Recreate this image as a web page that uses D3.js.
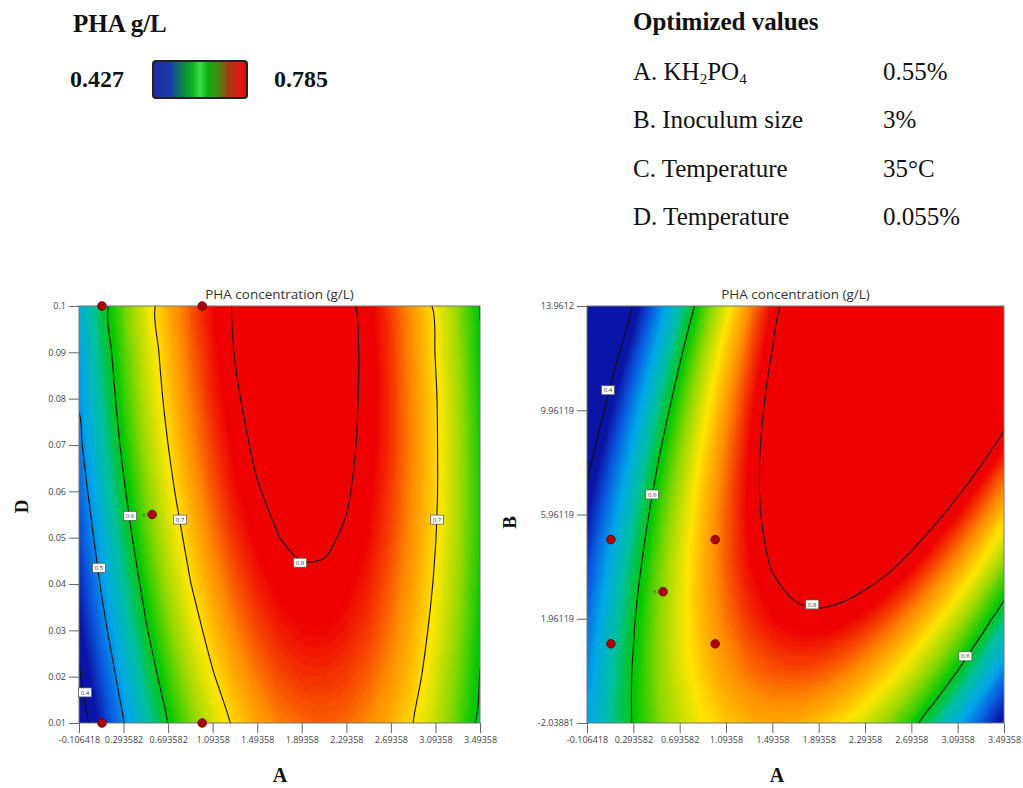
<!DOCTYPE html>
<html>
<head>
<meta charset="utf-8">
<script src="https://cdn.jsdelivr.net/npm/d3@7"></script>
<style>
  body { margin: 0; background: #fff; }
  .serif { font-family: 'Liberation Serif', 'Times New Roman', serif; fill: #111; }
  .tick text { font-family: 'Open Sans', 'Noto Sans', sans-serif; font-size: 9px; fill: #444; }
  .tick line { stroke: #666; }
</style>
</head>
<body>
<svg id="chart" width="1023" height="788"></svg>
<script>
// factor levels on the axes
const aTicks = [-0.106418, 0.293582, 0.693582, 1.09358, 1.49358, 1.89358, 2.29358, 2.69358, 3.09358, 3.49358];
const aTickLabels = ['-0.106418', '0.293582', '0.693582', '1.09358', '1.49358', '1.89358', '2.29358', '2.69358', '3.09358', '3.49358'];
const aGridFine = [-0.106418, 0.093582, 0.293582, 0.493582, 0.693582, 0.893582, 1.09358, 1.29358, 1.49358, 1.69358,
  1.89358, 2.09358, 2.29358, 2.49358, 2.69358, 2.89358, 3.09358, 3.29358, 3.49358];
const dTicks = [0.01, 0.02, 0.03, 0.04, 0.05, 0.06, 0.07, 0.08, 0.09, 0.1];
const dTickLabels = ['0.01', '0.02', '0.03', '0.04', '0.05', '0.06', '0.07', '0.08', '0.09', '0.1'];
const bTicks = [-2.03881, 1.96119, 5.96119, 9.96119, 13.9612];
const bTickLabels = ['-2.03881', '1.96119', '5.96119', '9.96119', '13.9612'];
const bGrid = [-2.03881, -0.03881, 1.96119, 3.96119, 5.96119, 7.96119, 9.96119, 11.9612, 13.9612];

// PHA concentration (g/L), rows = D (0.01 -> 0.1), columns = aGridFine
const phaAD = [
  [0.369, 0.437, 0.498, 0.553, 0.601, 0.642, 0.677, 0.706, 0.728, 0.744, 0.752, 0.755, 0.751, 0.740, 0.723, 0.700, 0.670, 0.633, 0.590],
  [0.394, 0.461, 0.521, 0.575, 0.622, 0.663, 0.697, 0.725, 0.746, 0.761, 0.769, 0.770, 0.765, 0.754, 0.736, 0.712, 0.680, 0.643, 0.599],
  [0.418, 0.484, 0.543, 0.596, 0.642, 0.682, 0.715, 0.742, 0.762, 0.776, 0.783, 0.784, 0.778, 0.766, 0.747, 0.721, 0.689, 0.651, 0.606],
  [0.439, 0.504, 0.562, 0.614, 0.660, 0.699, 0.731, 0.757, 0.776, 0.789, 0.795, 0.795, 0.788, 0.775, 0.755, 0.729, 0.696, 0.657, 0.611],
  [0.458, 0.522, 0.580, 0.631, 0.675, 0.713, 0.745, 0.770, 0.788, 0.800, 0.805, 0.804, 0.797, 0.783, 0.762, 0.735, 0.701, 0.661, 0.614],
  [0.475, 0.539, 0.595, 0.645, 0.689, 0.726, 0.757, 0.781, 0.798, 0.809, 0.814, 0.812, 0.803, 0.788, 0.766, 0.738, 0.704, 0.662, 0.615],
  [0.491, 0.553, 0.609, 0.658, 0.700, 0.737, 0.766, 0.789, 0.806, 0.816, 0.820, 0.817, 0.807, 0.791, 0.769, 0.740, 0.704, 0.662, 0.613],
  [0.504, 0.565, 0.620, 0.668, 0.710, 0.745, 0.774, 0.796, 0.812, 0.821, 0.824, 0.820, 0.809, 0.792, 0.769, 0.739, 0.703, 0.660, 0.610],
  [0.515, 0.575, 0.629, 0.676, 0.717, 0.752, 0.779, 0.801, 0.816, 0.824, 0.826, 0.821, 0.810, 0.792, 0.768, 0.737, 0.699, 0.656, 0.605],
  [0.524, 0.583, 0.636, 0.683, 0.723, 0.756, 0.783, 0.803, 0.817, 0.825, 0.826, 0.820, 0.808, 0.789, 0.764, 0.732, 0.694, 0.649, 0.598]
];

// PHA concentration (g/L), rows = bGrid, columns = aGridFine
const phaAB = [
  [0.510, 0.560, 0.603, 0.640, 0.670, 0.694, 0.711, 0.722, 0.726, 0.724, 0.715, 0.699, 0.677, 0.649, 0.614, 0.572, 0.524, 0.470, 0.409],
  [0.500, 0.555, 0.603, 0.646, 0.681, 0.710, 0.733, 0.749, 0.758, 0.761, 0.758, 0.748, 0.731, 0.708, 0.678, 0.642, 0.600, 0.551, 0.495],
  [0.482, 0.542, 0.596, 0.644, 0.685, 0.719, 0.747, 0.769, 0.784, 0.792, 0.794, 0.789, 0.778, 0.760, 0.736, 0.705, 0.668, 0.624, 0.574],
  [0.457, 0.523, 0.582, 0.635, 0.681, 0.721, 0.755, 0.782, 0.802, 0.816, 0.823, 0.824, 0.818, 0.806, 0.787, 0.761, 0.730, 0.691, 0.646],
  [0.425, 0.496, 0.561, 0.619, 0.671, 0.716, 0.755, 0.787, 0.813, 0.832, 0.845, 0.851, 0.851, 0.844, 0.830, 0.810, 0.784, 0.751, 0.711],
  [0.385, 0.462, 0.532, 0.596, 0.653, 0.704, 0.748, 0.786, 0.817, 0.841, 0.859, 0.871, 0.876, 0.875, 0.866, 0.852, 0.831, 0.803, 0.769],
  [0.339, 0.421, 0.497, 0.566, 0.628, 0.685, 0.734, 0.777, 0.814, 0.844, 0.867, 0.884, 0.894, 0.898, 0.896, 0.887, 0.871, 0.849, 0.820],
  [0.285, 0.373, 0.454, 0.528, 0.596, 0.658, 0.713, 0.761, 0.803, 0.839, 0.867, 0.890, 0.906, 0.915, 0.918, 0.914, 0.904, 0.887, 0.864],
  [0.225, 0.318, 0.404, 0.484, 0.557, 0.624, 0.685, 0.738, 0.786, 0.827, 0.861, 0.889, 0.910, 0.924, 0.933, 0.934, 0.929, 0.918, 0.900]
];

const levelsAD = [0.4, 0.5, 0.6, 0.7, 0.8];
const levelsAB = [0.4, 0.6, 0.8];

// design points
const pointsAD = [[0.1, 0.1], [1.0, 0.1], [0.55, 0.055], [0.1, 0.01], [1.0, 0.01]];
const pointsAB = [[0.1, 5], [1.0, 5], [0.55, 3], [0.1, 1], [1.0, 1]];
const centerRuns = 6;

// contour label anchors
const labelsAD = [['0.4', -0.052, 0.0166], ['0.5', 0.073, 0.0435], ['0.6', 0.352, 0.0547], ['0.7', 0.80, 0.0539], ['0.8', 1.878, 0.0446], ['0.7', 3.107, 0.0539]];
const labelsAB = [['0.4', 0.075, 10.73], ['0.6', 0.456, 6.73], ['0.8', 1.838, 2.51], ['0.6', 3.16, 0.52]];

const phaMin = 0.427, phaMax = 0.785;
const optimized = [
  ['A. KH', '0.55%'],
  ['B. Inoculum size', '3%'],
  ['C. Temperature', '35°C'],
  ['D. Temperature', '0.055%']
];

const svg = d3.select('#chart');

const colorStops = ['#0b16a8', '#0a5ee0', '#00a8e8', '#00c0a0', '#00c800', '#90d800', '#ffe600', '#ff8a00', '#ee0000'];
const color = d3.scaleLinear()
  .domain(colorStops.map((c, i) => phaMin + (phaMax - phaMin) * i / (colorStops.length - 1)))
  .range(colorStops)
  .clamp(true);

const smooth = d3.line().curve(d3.curveCatmullRomClosed.alpha(0.5));

function drawPanel(p) {
  const x = d3.scaleLinear().domain([aTicks[0], aTicks[aTicks.length - 1]]).range([p.left, p.right]);
  const y = d3.scaleLinear().domain([p.yTicks[0], p.yTicks[p.yTicks.length - 1]]).range([p.bottom, p.top]);
  const nx = p.xGrid.length, ny = p.yGrid.length;

  // grid values of d3.contours sit at cell centres
  const gx = d3.scaleLinear().domain([0.5, nx - 0.5]).range([x(p.xGrid[0]), x(p.xGrid[nx - 1])]);
  const gy = d3.scaleLinear().domain([0.5, ny - 0.5]).range([y(p.yGrid[0]), y(p.yGrid[ny - 1])]);
  const contourPath = geom => geom.coordinates
    .map(poly => poly.map(ring => smooth(ring.slice(0, -1).map(q => [gx(q[0]), gy(q[1])]))).join(''))
    .join('');
  const values = p.grid.flat();

  svg.append('clipPath').attr('id', p.id + '-clip')
    .append('rect')
    .attr('x', p.left).attr('y', p.top)
    .attr('width', p.right - p.left).attr('height', p.bottom - p.top);

  const g = svg.append('g').attr('clip-path', `url(#${p.id}-clip)`);

  const step = 0.003;
  const bands = d3.range(0.2, 0.95, step);
  g.selectAll('path.band')
    .data(d3.contours().size([nx, ny]).thresholds(bands)(values))
    .join('path')
    .attr('class', 'band')
    .attr('d', contourPath)
    .attr('fill', d => color(d.value + step / 2));

  g.selectAll('path.iso')
    .data(d3.contours().size([nx, ny]).thresholds(p.levels)(values))
    .join('path')
    .attr('class', 'iso')
    .attr('d', contourPath)
    .attr('fill', 'none')
    .attr('stroke', '#111')
    .attr('stroke-width', 1.1);

  // frame
  svg.append('rect')
    .attr('x', p.left).attr('y', p.top)
    .attr('width', p.right - p.left).attr('height', p.bottom - p.top)
    .attr('fill', 'none').attr('stroke', '#777').attr('stroke-width', 1);

  // axes
  const ax = svg.append('g')
    .attr('transform', `translate(0,${p.bottom})`)
    .call(d3.axisBottom(x).tickValues(aTicks).tickFormat((d, i) => aTickLabels[i]).tickSize(10).tickPadding(4));
  ax.select('.domain').remove();

  const ay = svg.append('g')
    .attr('transform', `translate(${p.left},0)`)
    .call(d3.axisLeft(y).tickValues(p.yTicks).tickFormat((d, i) => p.yTickLabels[i]).tickSize(10).tickPadding(3));
  ay.select('.domain').remove();

  // contour labels
  const lab = svg.append('g').selectAll('g')
    .data(p.labels)
    .join('g')
    .attr('transform', d => `translate(${x(d[1])},${y(d[2])})`);
  lab.append('rect')
    .attr('x', -6.5).attr('y', -4.5).attr('width', 13).attr('height', 9)
    .attr('fill', '#fff').attr('stroke', '#555').attr('stroke-width', 0.7);
  lab.append('text')
    .attr('text-anchor', 'middle').attr('dy', '0.35em')
    .style('font-family', 'Open Sans, sans-serif').style('font-size', '6px').attr('fill', '#333')
    .text(d => d[0]);

  // design points
  svg.append('g').selectAll('circle')
    .data(p.points)
    .join('circle')
    .attr('cx', d => x(d[0])).attr('cy', d => y(d[1])).attr('r', 4.3)
    .attr('fill', '#b10000').attr('stroke', '#4a0000').attr('stroke-width', 0.8);

  const c = p.points[2];
  svg.append('text')
    .attr('x', x(c[0]) - 8).attr('y', y(c[1]) + 2)
    .attr('text-anchor', 'middle')
    .style('font-family', 'Open Sans, sans-serif').style('font-size', '6px').attr('fill', '#444')
    .text(centerRuns);

  // title
  svg.append('text')
    .attr('x', (p.left + p.right) / 2).attr('y', p.top - 7)
    .attr('text-anchor', 'middle')
    .style('font-family', 'Open Sans, Noto Sans, sans-serif').style('font-size', '13.5px').attr('fill', '#333')
    .text('PHA concentration (g/L)');

  // axis names
  svg.append('text').attr('class', 'serif')
    .attr('x', p.xNameX).attr('y', 782)
    .attr('text-anchor', 'middle')
    .style('font-size', '20px').style('font-weight', 'bold')
    .text('A');
  svg.append('text').attr('class', 'serif')
    .attr('transform', `translate(${p.yNameX},${(p.top + p.bottom) / 2 + p.yNameDy}) rotate(-90)`)
    .attr('text-anchor', 'middle')
    .style('font-size', '19px').style('font-weight', 'bold')
    .text(p.yName);
}

drawPanel({
  id: 'ad', left: 79, right: 480, top: 306, bottom: 723,
  xGrid: aGridFine, yTicks: dTicks, yTickLabels: dTickLabels, yGrid: dTicks, grid: phaAD,
  levels: levelsAD, labels: labelsAD, points: pointsAD,
  xNameX: 280, yName: 'D', yNameX: 28, yNameDy: -8
});

drawPanel({
  id: 'ab', left: 587, right: 1004, top: 306, bottom: 723,
  xGrid: aGridFine, yTicks: bTicks, yTickLabels: bTickLabels, yGrid: bGrid, grid: phaAB,
  levels: levelsAB, labels: labelsAB, points: pointsAB,
  xNameX: 777, yName: 'B', yNameX: 516, yNameDy: 8
});

// ---- header: colour key ----
svg.append('text').attr('class', 'serif')
  .attr('x', 73).attr('y', 32)
  .style('font-size', '25px').style('font-weight', 'bold')
  .text('PHA g/L');

const grad = svg.append('defs').append('linearGradient').attr('id', 'key');
[[0, '#1f2a9a'], [0.18, '#1a3aa8'], [0.33, '#0a8a40'], [0.42, '#10b020'], [0.5, '#38e048'],
 [0.58, '#10b010'], [0.68, '#3a9010'], [0.8, '#a04010'], [0.92, '#e01818'], [1, '#d01010']]
  .forEach(s => grad.append('stop').attr('offset', s[0]).attr('stop-color', s[1]));

svg.append('rect')
  .attr('x', 153).attr('y', 61).attr('width', 94).attr('height', 37).attr('rx', 3)
  .attr('fill', 'url(#key)').attr('stroke', '#222').attr('stroke-width', 2);

svg.append('text').attr('class', 'serif')
  .attr('x', 70).attr('y', 87)
  .style('font-size', '24px').style('font-weight', 'bold')
  .text(phaMin.toFixed(3));
svg.append('text').attr('class', 'serif')
  .attr('x', 274).attr('y', 87)
  .style('font-size', '24px').style('font-weight', 'bold')
  .text(phaMax.toFixed(3));

// ---- header: optimized values ----
svg.append('text').attr('class', 'serif')
  .attr('x', 633).attr('y', 30)
  .style('font-size', '25px').style('font-weight', 'bold')
  .text('Optimized values');

optimized.forEach((row, i) => {
  const yy = 80 + i * 48.3;
  const t = svg.append('text').attr('class', 'serif')
    .attr('x', 633).attr('y', yy).style('font-size', '25px');
  if (i === 0) {
    t.append('tspan').text(row[0]);
    t.append('tspan').attr('font-size', '15px').attr('dy', 4).text('2');
    t.append('tspan').attr('dy', -4).text('PO');
    t.append('tspan').attr('font-size', '15px').attr('dy', 4).text('4');
  } else {
    t.text(row[0]);
  }
  svg.append('text').attr('class', 'serif')
    .attr('x', 883).attr('y', yy).style('font-size', '25px')
    .text(row[1]);
});
</script>
</body>
</html>
